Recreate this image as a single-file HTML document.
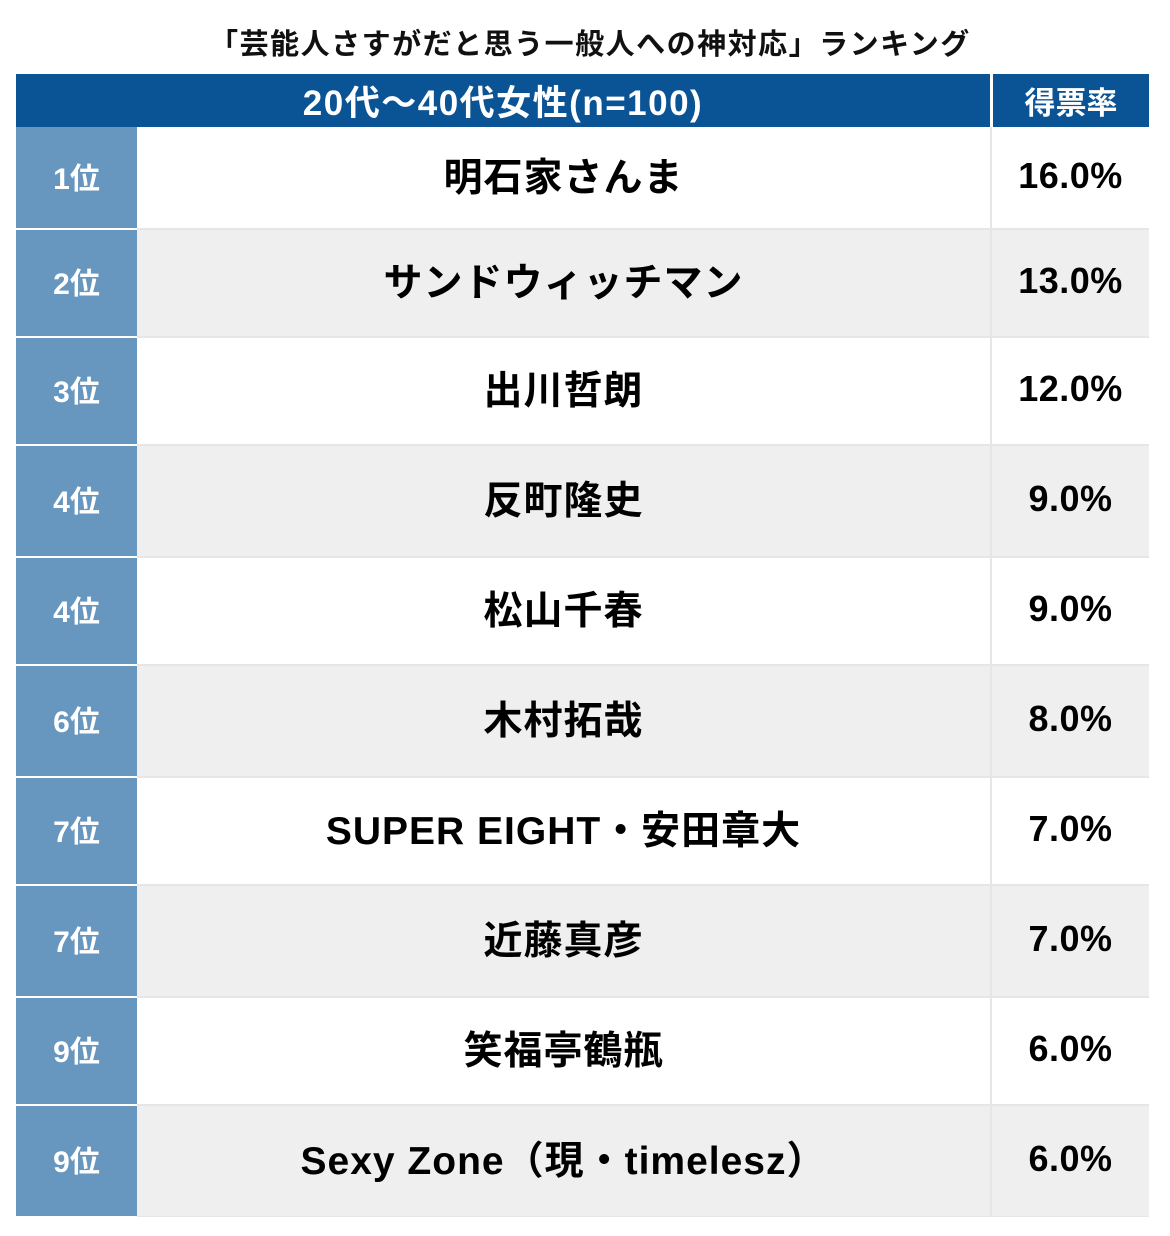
<!DOCTYPE html>
<html><head><meta charset="utf-8"><style>
body{margin:0;width:1170px;height:1236px;background:#fff;position:relative;overflow:hidden;font-family:"Liberation Sans","Noto Sans CJK JP",sans-serif;font-weight:bold}
.a{position:absolute;box-sizing:border-box;display:flex;align-items:center;justify-content:center}
</style></head><body>
<div class="a" style="left:0;top:22px;width:1180px;height:40px;font-size:29px;letter-spacing:1.5px;color:#111">「芸能人さすがだと思う一般人への神対応」ランキング</div>
<div class="a" style="left:16px;top:74px;width:974px;height:53px;background:#0a5394;color:#fff;font-size:35px;letter-spacing:1.5px">20代〜40代女性(n=100)</div>
<div class="a" style="left:993px;top:74px;width:156px;height:53px;background:#0a5394;color:#fff;font-size:31px">得票率</div>
<div style="position:absolute;left:137px;top:127px;width:1012px;height:1090px;background:#e6e6e6"></div>
<div id="rows"></div>
<script>
const ranks=["1位","2位","3位","4位","4位","6位","7位","7位","9位","9位"];
const names=["明石家さんま","サンドウィッチマン","出川哲朗","反町隆史","松山千春","木村拓哉","SUPER EIGHT・安田章大","近藤真彦","笑福亭鶴瓶","Sexy Zone（現・timelesz）"];
const values=[16.0,13.0,12.0,9.0,9.0,8.0,7.0,7.0,6.0,6.0];
const tops=[127,229,337,445,557,665,777,885,997,1105,1217];
const c=document.getElementById('rows');
ranks.forEach((r,i)=>{
  const t=tops[i]+(i?1:0),h=tops[i+1]-t-1,bg=i%2?'#efefef':'#fff';
  const a=document.createElement('div');a.className='a';
  
  
  a.style.cssText=`left:16px;top:${t}px;width:121px;height:${h}px;background:#6796bf;color:#fff;font-size:30px;padding-bottom:4px`;a.textContent=r;c.appendChild(a);
  const b=document.createElement('div');b.className='a';
  
  
  b.style.cssText=`left:137px;top:${t}px;width:853px;height:${h}px;background:${bg};color:#000;font-size:39px;letter-spacing:1px;padding-bottom:6px`;b.textContent=names[i];c.appendChild(b);
  const d=document.createElement('div');d.className='a';
  
  
  d.style.cssText=`left:992px;top:${t}px;width:157px;height:${h}px;background:${bg};color:#000;font-size:36px;letter-spacing:0.5px;padding-bottom:4px`;d.textContent=values[i].toFixed(1)+'%';c.appendChild(d);
});
</script>
</body></html>
